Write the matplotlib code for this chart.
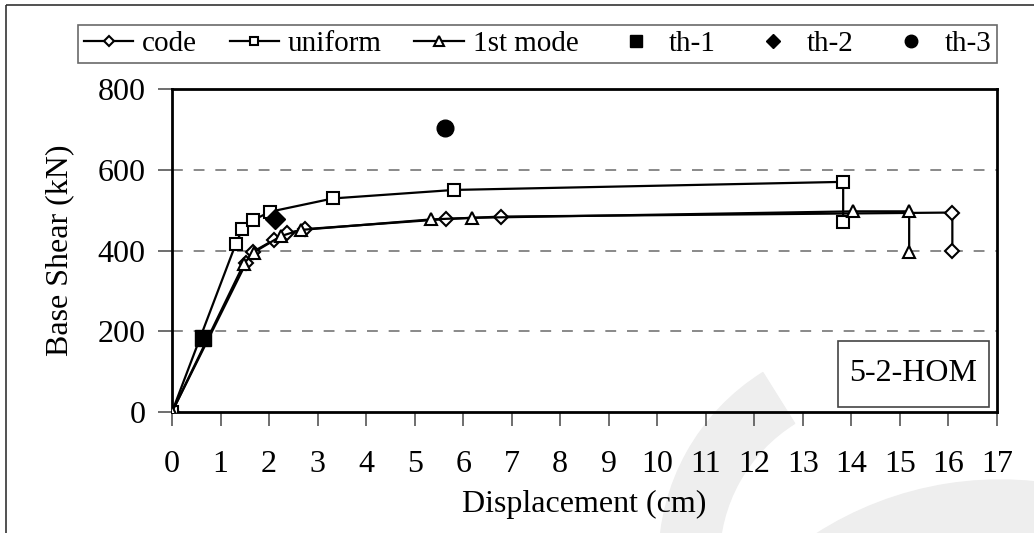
import numpy as np
import matplotlib
matplotlib.use("Agg")
import matplotlib.pyplot as plt
from matplotlib.patches import Rectangle, Wedge

plt.rcParams['font.family'] = ['Liberation Serif', 'DejaVu Serif']

# pushover curves (displacement cm, base shear kN)
code_x = [0, 1.53, 1.67, 2.10, 2.37, 2.75, 5.65, 6.77, 16.08, 16.08]
code_y = [0, 370, 397, 426, 443, 453, 478, 484, 494, 398]

unif_x = [0, 1.31, 1.45, 1.67, 2.02, 3.32, 5.81, 13.83, 13.83]
unif_y = [0, 415, 453, 475, 496, 529, 550, 570, 471]

mode1_x = [0, 1.48, 1.68, 2.25, 2.66, 5.34, 6.19, 14.04, 15.19, 15.19]
mode1_y = [0, 367, 395, 436, 451, 477, 481, 497, 497, 396]

# time history results
th1 = (0.64, 184)
th2 = (2.13, 478)
th3 = (5.63, 704)

W, H = 1034, 533
fig = plt.figure(figsize=(W/100, H/100), dpi=100)
ax = fig.add_axes([172/W, 1-412/H, (997-172)/W, (412-89)/H])
ax.set_facecolor('none')

# light watermark + outer frame, in pixel coords
wm = fig.add_axes([0, 0, 1, 1], zorder=-10)
wm.set_xlim(0, W)
wm.set_ylim(H, 0)
wm.axis('off')
wm.add_patch(Wedge((880, 560), 221, 180, 238, width=60, color='#eeeeee'))
wm.add_patch(Wedge((1000, 820), 340, 237, 285, width=60, color='#eeeeee'))
wm.add_patch(Rectangle((6, 5), 1100, 600, fill=False, ec='#333333', lw=1.2))

lw = 1.6
ms = 8.5
ax.plot(code_x, code_y, '-', color='black', lw=lw, marker='D', ms=ms*0.85, mfc='white',
        mec='black', mew=1.5, label='code', zorder=3)
ax.plot(unif_x, unif_y, '-', color='black', lw=lw, marker='s', ms=ms, mfc='white',
        mec='black', mew=1.5, label='uniform', zorder=3)
ax.plot(mode1_x, mode1_y, '-', color='black', lw=lw, marker='^', ms=ms*1.05, mfc='white',
        mec='black', mew=1.5, label='1st mode', zorder=3)
ax.plot([th1[0]], [th1[1]], 's', color='black', ms=12, ls='none', label='th-1', zorder=4)
ax.plot([th2[0]], [th2[1]], 'D', color='black', ms=10, ls='none', label='th-2', zorder=4)
ax.plot([th3[0]], [th3[1]], 'o', color='black', ms=12, ls='none', label='th-3', zorder=4)

ax.set_xlim(0, 17)
ax.set_ylim(0, 800)
ax.set_xticks(np.arange(0, 18, 1))
ax.set_yticks([0, 200, 400, 600, 800])
for y in [200, 400, 600]:
    ax.axhline(y, color='#808080', lw=1.3, ls=(0, (6, 6)), zorder=1)

for s in ax.spines.values():
    s.set_linewidth(2)
    s.set_color('black')
ax.tick_params(axis='both', direction='out', length=10, width=1.2, color='#555555',
               labelsize=23, pad=9)
ax.tick_params(axis='x', pad=17)
ax.set_xlabel('Displacement (cm)', fontsize=23, labelpad=8)
ax.set_ylabel('Base Shear (kN)', fontsize=23, labelpad=17)

# label box
ax.add_patch(Rectangle((0.807, 0.0155), 0.183, 0.205, transform=ax.transAxes,
                       fc='white', ec='#444444', lw=1.2, zorder=6))
ax.text(0.8985, 0.118, '5-2-HOM', transform=ax.transAxes, ha='center', va='center',
        fontsize=23, zorder=7)

leg = fig.legend(loc='lower left', bbox_to_anchor=(78/W, 1-63/H, (997-78)/W, 55/H),
                 mode='expand', ncol=6, fontsize=21, frameon=True, fancybox=False,
                 edgecolor='#444444', handlelength=1.7, handletextpad=0.3,
                 markerscale=0.75, borderaxespad=0, borderpad=0.2)
leg.get_frame().set_linewidth(1.2)

fig.savefig('out.png', dpi=100)
